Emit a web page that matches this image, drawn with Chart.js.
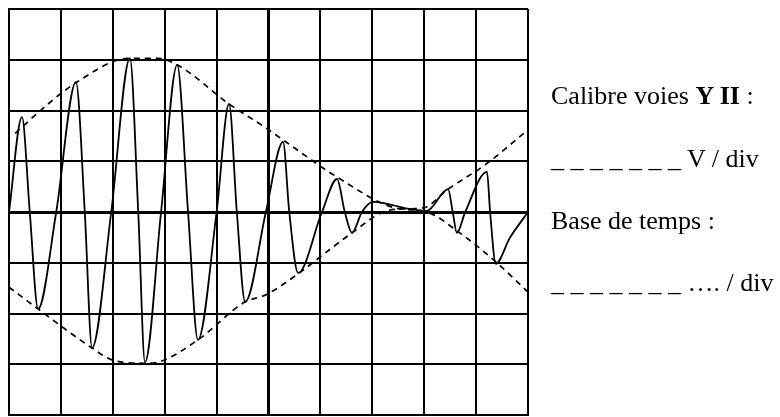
<!DOCTYPE html>
<html lang="fr">
<head>
<meta charset="utf-8">
<title>Oscillogramme</title>
<script src="https://cdn.jsdelivr.net/npm/chart.js@4/dist/chart.umd.min.js"></script>
<style>
  html, body { margin: 0; padding: 0; background: #fff; }
  #wrap { position: relative; width: 780px; height: 417px; }
  .note {
    position: absolute;
    left: 551px;
    font-family: "Liberation Serif", "Times New Roman", serif;
    font-size: 26px;
    color: #000;
    white-space: pre;
    line-height: 26px;
  }
</style>
</head>
<body>
<div id="wrap">
  <canvas id="scope"></canvas>
  <div class="note" style="top:83px">Calibre voies <b>Y II</b> :</div>
  <div class="note" style="top:146px">_ _ _ _ _ _ _ V / div</div>
  <div class="note" style="top:208px">Base de temps :</div>
  <div class="note" style="top:270px">_ _ _ _ _ _ _ …. / div</div>
</div>
<script>
// screen: 10 div across, 8 div high
const xTicks = [0, 1, 2, 3, 4, 5, 6, 7, 8, 9, 10];
const yTicks = [-4, -3, -2, -1, 0, 1, 2, 3, 4];

// trace (div units)
const sigX = [0, 0.25, 0.40, 0.56, 0.91, 1.29, 1.46, 1.60, 1.97, 2.33, 2.49, 2.62, 2.93,
  3.24, 3.45, 3.64, 4.00, 4.24, 4.39, 4.55, 4.95, 5.28, 5.40, 5.57, 6.03, 6.32, 6.47,
  6.61, 6.80, 7.01, 7.72, 8.05, 8.46, 8.55, 8.63, 8.79, 9.21, 9.27, 9.38, 9.65, 10];
const sigY = [0, 1.87, 0, -1.91, 0, 2.56, 0, -2.68, 0, 3.03, 0, -2.96, 0,
  2.90, 0, -2.52, 0, 2.13, 0, -1.77, 0, 1.38, 0, -1.20, 0, 0.65, 0,
  -0.41, 0, 0.20, 0.06, 0.02, 0.45, 0, -0.41, 0, 0.79, 0, -1.02, -0.51, 0];

// dashed envelopes
const upX = [0.12, 0.15, 1.31, 2.33, 2.85, 3.24, 4.24, 4.93, 5.28, 6.32, 7.44, 8.05, 8.63, 9.40, 10];
const upY = [1.55, 1.58, 2.56, 3.03, 3.03, 2.90, 2.13, 1.67, 1.42, 0.69, 0.08, 0, -0.37, -1.00, -1.58];
const lowX = [0, 0.56, 1.60, 2.00, 2.62, 2.90, 3.64, 4.55, 4.93, 5.32, 6.61, 7.21, 7.60, 7.98, 8.46, 9.20, 10];
const lowY = [-1.48, -1.91, -2.68, -2.92, -2.98, -2.95, -2.52, -1.77, -1.64, -1.40, -0.41, 0, 0.06, 0.08, 0.45, 0.95, 1.62];

const toPoints = (xs, ys) => xs.map((x, i) => ({ x, y: ys[i] }));

const gridWidth = (ctx) => (ctx.tick && ctx.tick.value === 0 ? 3 : 2);

new Chart(document.getElementById('scope'), {
  type: 'line',
  data: {
    datasets: [
      {
        label: 'signal',
        data: toPoints(sigX, sigY),
        borderColor: '#000',
        borderWidth: 1.8,
        pointRadius: 0,
        cubicInterpolationMode: 'monotone',
        fill: false
      },
      {
        label: 'enveloppe haute',
        data: toPoints(upX, upY),
        borderColor: '#000',
        borderWidth: 1.7,
        borderDash: [6, 5],
        pointRadius: 0,
        cubicInterpolationMode: 'monotone',
        fill: false
      },
      {
        label: 'enveloppe basse',
        data: toPoints(lowX, lowY),
        borderColor: '#000',
        borderWidth: 1.7,
        borderDash: [6, 5],
        pointRadius: 0,
        cubicInterpolationMode: 'monotone',
        fill: false
      }
    ]
  },
  options: {
    responsive: true,
    maintainAspectRatio: false,
    animation: false,
    layout: { padding: { left: 9, top: 9, right: 252, bottom: 2 } },
    plugins: { legend: { display: false }, tooltip: { enabled: false } },
    scales: {
      x: {
        type: 'linear',
        min: 0,
        max: 10,
        afterBuildTicks: (axis) => { axis.ticks = xTicks.map(v => ({ value: v })); },
        ticks: { display: false },
        grid: {
          color: '#000',
          lineWidth: (ctx) => (ctx.tick && ctx.tick.value === 5 ? 3 : 2),
          drawTicks: false
        },
        border: { display: true, color: '#000', width: 2 }
      },
      y: {
        type: 'linear',
        min: -4,
        max: 4,
        afterBuildTicks: (axis) => { axis.ticks = yTicks.map(v => ({ value: v })); },
        ticks: { display: false },
        grid: { color: '#000', lineWidth: gridWidth, drawTicks: false },
        border: { display: true, color: '#000', width: 2 }
      }
    }
  }
});
</script>
</body>
</html>
